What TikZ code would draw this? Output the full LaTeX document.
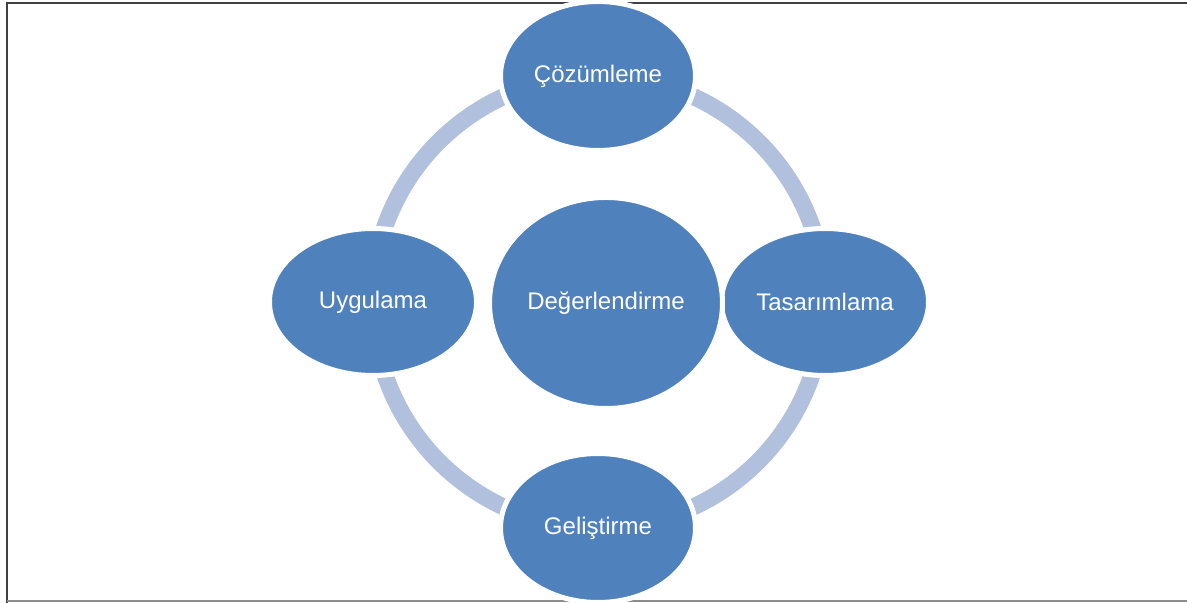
\documentclass[tikz,border=0pt]{standalone}
\usepackage{fontspec}
\setmainfont{Liberation Sans}
\usepackage{tikz}
\usetikzlibrary{shapes.geometric,backgrounds}

\begin{document}
\begin{tikzpicture}[x=0.5pt, y=0.5pt]
    % Define colours
    \definecolor{stagefill}{RGB}{79,129,189}
    \definecolor{ringcol}{RGB}{177,193,221}
    \definecolor{framecol}{RGB}{64,64,64}

    % Parameters
    \def\R{226}      % radius of the cycle ring
    \def\ringw{8.5pt} % width of the ring band

    \tikzset{
        stage/.style={ellipse, fill=stagefill, draw=white, line width=2.5pt,
            inner sep=0pt, text=white, font=\fontsize{12}{14}\selectfont,
            minimum width=#1},
        stage/.default=97.5pt,
        ringarc/.style={ringcol, line width=\ringw}
    }

    % Page size and frame
    \useasboundingbox (-598,-301) rectangle (589,302);
    \draw[framecol, line width=1pt] (-591,-301) -- (-591,299) -- (589,299);
    \draw[black!45, line width=1pt] (-591,-299) -- (589,-299);

    % Stages round the cycle
    \node[stage, minimum height=74.5pt] (cozum) at (0,226) {Çözümleme};
    \node[stage=103.5pt, minimum height=73.5pt] (tasarim) at (227,0) {Tasarımlama};
    \node[stage, minimum height=74.5pt] (gelis) at (0,-226) {Geliştirme};
    \node[stage=103.5pt, minimum height=73.5pt] (uygula) at (-225,0) {Uygulama};

    % Centre stage
    \node[stage=116.5pt, minimum height=105.5pt] (deger) at (8,-1) {Değerlendirme};

    % Ring behind the stages
    \begin{scope}[on background layer]
        \draw[ringarc] (cozum.center) arc[start angle=90, end angle=180, radius=\R];
        \draw[ringarc] (uygula.center) arc[start angle=180, end angle=270, radius=\R];
        \draw[ringarc] (gelis.center) arc[start angle=270, end angle=360, radius=\R];
        \draw[ringarc] (tasarim.center) arc[start angle=0, end angle=90, radius=\R];
    \end{scope}

\end{tikzpicture}
\end{document}
